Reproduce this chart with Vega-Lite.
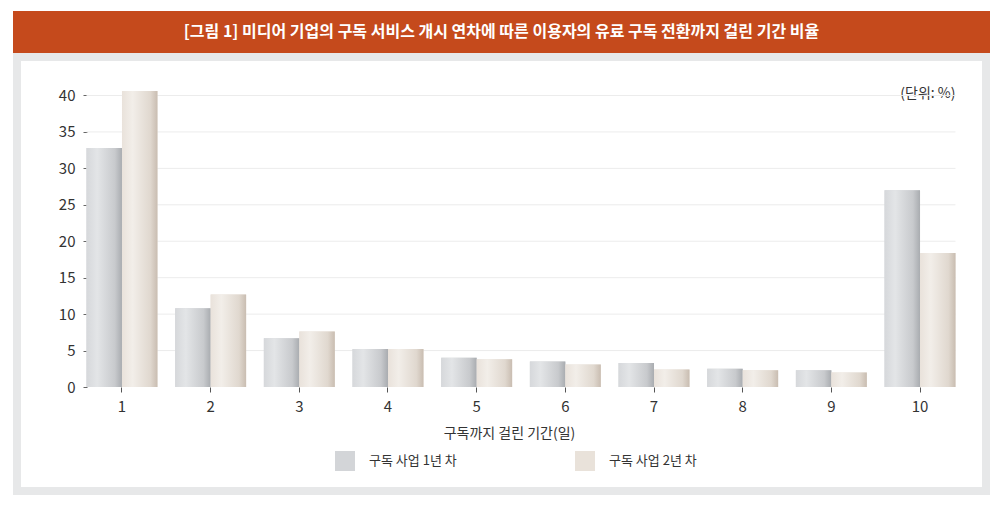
{
  "$schema": "https://vega.github.io/schema/vega-lite/v6.json",
  "background": "#ffffff",
  "padding": {"left": 13, "top": 11, "right": 14, "bottom": 10},
  "spacing": 0,
  "config": {"font": "Noto Sans CJK KR"},
  "vconcat": [
    {
      "width": 969,
      "height": 34,
      "view": {"fill": "#c54a1c", "stroke": "#c54a1c", "strokeWidth": 8},
      "data": {"values": [{"label": "[그림 1] 미디어 기업의 구독 서비스 개시 연차에 따른 이용자의 유료 구독 전환까지 걸린 기간 비율"}]},
      "mark": {"type": "text", "color": "#ffffff", "fontSize": 16, "fontWeight": "bold"},
      "encoding": {"text": {"field": "label"}}
    },
    {
      "width": 969,
      "height": 434,
      "view": {"fill": "#ffffff", "stroke": "#e7e8e9", "strokeWidth": 8},
      "data": {"values": [
        {"day": 1, "series": "구독 사업 1년 차", "value": 32.8},
        {"day": 1, "series": "구독 사업 2년 차", "value": 40.6},
        {"day": 2, "series": "구독 사업 1년 차", "value": 10.8},
        {"day": 2, "series": "구독 사업 2년 차", "value": 12.7},
        {"day": 3, "series": "구독 사업 1년 차", "value": 6.7},
        {"day": 3, "series": "구독 사업 2년 차", "value": 7.6},
        {"day": 4, "series": "구독 사업 1년 차", "value": 5.2},
        {"day": 4, "series": "구독 사업 2년 차", "value": 5.2},
        {"day": 5, "series": "구독 사업 1년 차", "value": 4.0},
        {"day": 5, "series": "구독 사업 2년 차", "value": 3.8},
        {"day": 6, "series": "구독 사업 1년 차", "value": 3.5},
        {"day": 6, "series": "구독 사업 2년 차", "value": 3.1},
        {"day": 7, "series": "구독 사업 1년 차", "value": 3.3},
        {"day": 7, "series": "구독 사업 2년 차", "value": 2.4},
        {"day": 8, "series": "구독 사업 1년 차", "value": 2.5},
        {"day": 8, "series": "구독 사업 2년 차", "value": 2.3},
        {"day": 9, "series": "구독 사업 1년 차", "value": 2.3},
        {"day": 9, "series": "구독 사업 2년 차", "value": 2.0},
        {"day": 10, "series": "구독 사업 1년 차", "value": 27.0},
        {"day": 10, "series": "구독 사업 2년 차", "value": 18.4}
      ]},
      "encoding": {
        "x": {
          "field": "day",
          "type": "ordinal",
          "scale": {"paddingInner": 0.2, "paddingOuter": 0.564, "align": 0.695},
          "axis": {
            "offset": -104,
            "domain": false,
            "grid": false,
            "ticks": true,
            "tickSize": 5,
            "tickColor": "#555555",
            "labelAngle": 0,
            "labelFontSize": 15,
            "labelColor": "#333333",
            "labelPadding": 7,
            "title": "구독까지 걸린 기간(일)",
            "titleFontSize": 14,
            "titleFontWeight": "normal",
            "titleColor": "#333333",
            "titleX": 492,
            "titleY": 46,
            "titleBaseline": "middle"
          }
        },
        "xOffset": {"field": "series", "type": "nominal", "scale": {"paddingInner": 0, "paddingOuter": 0}},
        "y": {
          "field": "value",
          "type": "quantitative",
          "scale": {"domain": [-14.27, 45.28], "nice": false, "zero": false},
          "axis": {
            "values": [0, 5, 10, 15, 20, 25, 30, 35, 40],
            "offset": -70,
            "domain": false,
            "grid": false,
            "tickSize": 4,
            "tickColor": "#666666",
            "labelFontSize": 15,
            "labelColor": "#333333",
            "labelPadding": 8,
            "title": "(단위: %)",
            "titleAngle": 0,
            "titleX": 868,
            "titleY": 36,
            "titleAlign": "right",
            "titleBaseline": "middle",
            "titleFontSize": 14,
            "titleFontWeight": "normal",
            "titleColor": "#333333"
          }
        },
        "y2": {"datum": 0}
      },
      "layer": [
        {
          "data": {"values": [{"v": 5}, {"v": 10}, {"v": 15}, {"v": 20}, {"v": 25}, {"v": 30}, {"v": 35}, {"v": 40}]},
          "mark": {"type": "rule", "color": "#ececec", "strokeWidth": 1},
          "encoding": {
            "y": {"field": "v", "type": "quantitative", "title": "(단위: %)"},
            "y2": null,
            "xOffset": null,
            "x": {"datum": 1, "type": "ordinal", "bandPosition": 0},
            "x2": {"datum": 10, "bandPosition": 1}
          }
        },
        {
          "mark": {"type": "bar"},
          "encoding": {
            "color": {
              "field": "series",
              "type": "nominal",
              "scale": {"range": ["#d3d5d8", "#e9e2da"]},
              "legend": {
                "orient": "none",
                "legendX": 318,
                "legendY": 436,
                "direction": "horizontal",
                "title": null,
                "padding": 0,
                "symbolType": "square",
                "symbolSize": 400,
                "symbolStrokeWidth": 0,
                "symbolOpacity": 1,
                "labelFontSize": 13,
                "labelColor": "#333333",
                "labelOffset": 14,
                "columnPadding": 118
              }
            }
          }
        },
        {
          "transform": [{"filter": "datum.series === '구독 사업 1년 차'"}],
          "mark": {
            "type": "bar",
            "color": {"gradient": "linear", "x1": 0, "y1": 0, "x2": 1, "y2": 0, "stops": [
              {"offset": 0, "color": "#d6d8db"},
              {"offset": 0.3, "color": "#e3e5e7"},
              {"offset": 0.8, "color": "#c8cacd"},
              {"offset": 1, "color": "#a9acb0"}
            ]}
          }
        },
        {
          "transform": [{"filter": "datum.series === '구독 사업 2년 차'"}],
          "mark": {
            "type": "bar",
            "color": {"gradient": "linear", "x1": 0, "y1": 0, "x2": 1, "y2": 0, "stops": [
              {"offset": 0, "color": "#e9e2db"},
              {"offset": 0.3, "color": "#f2eee9"},
              {"offset": 0.8, "color": "#e0d8cf"},
              {"offset": 1, "color": "#c9bdb1"}
            ]}
          }
        },
        {
          "data": {"values": [{}]},
          "mark": {"type": "rule", "color": "#555555", "strokeWidth": 1},
          "encoding": {
            "y": {"datum": 0},
            "y2": null,
            "xOffset": null,
            "x": {"datum": 1, "type": "ordinal", "bandPosition": 0},
            "x2": {"datum": 10, "bandPosition": 1}
          }
        }
      ]
    }
  ]
}
